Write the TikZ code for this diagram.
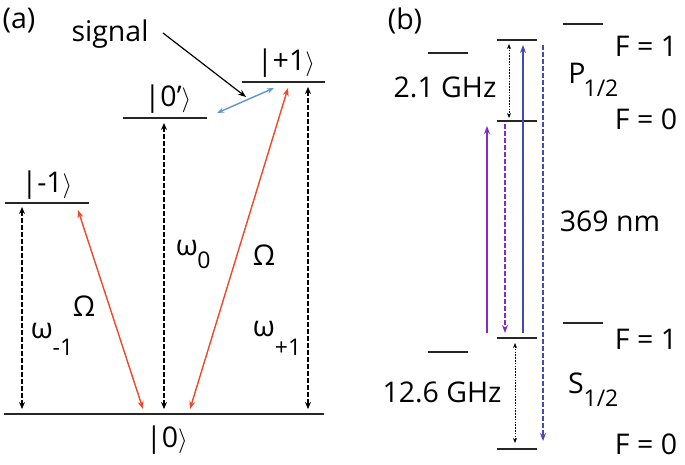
\documentclass[tikz,border=0pt]{standalone}
\usepackage{fontspec}
\setmainfont{Open Sans}
\usetikzlibrary{arrows.meta}
\definecolor{redarr}{RGB}{238,72,40}
\definecolor{bluearr}{RGB}{95,150,210}
\definecolor{purp}{RGB}{135,40,200}
\definecolor{darkblue}{RGB}{70,70,180}
\begin{document}
\begin{tikzpicture}[x=1pt,y=-1pt,
  lvl/.style={line width=1.3pt,black!85},
  txt/.style={inner sep=0pt,font=\fontsize{28.5}{31}\selectfont},
  sub/.style={inner sep=0pt,font=\fontsize{23}{25}\selectfont},
  dasharr/.style={line width=1.4pt,dash pattern=on 4.5pt off 2.5pt,{Stealth[length=7pt,width=6pt]}-{Stealth[length=7pt,width=6pt]}},
  dotarr/.style={line width=1pt,dash pattern=on 1.6pt off 1.2pt,{Stealth[length=5pt,width=4pt]}-{Stealth[length=5pt,width=4pt]}},
  uparr/.style={line width=1.6pt,-{Stealth[length=8pt,width=6pt]}},
  dnarr/.style={line width=1.8pt,dash pattern=on 4.5pt off 2.5pt,-{Stealth[length=8pt,width=6pt]}}]
\useasboundingbox (0,0) rectangle (685,464);
% ---------- panel (a) ----------
\node[txt] (la) at (19,21) {(a)};
\node[txt] (sig) at (110,34) {signal};
\node[txt] (kp) at (286,63) {|+1$\bigr\rangle$};
\node[txt] (kz) at (168,99) {|0’$\bigr\rangle$};
\node[txt] (km) at (47,185) {|-1$\bigr\rangle$};
\node[txt] (k0) at (167,440) {|0$\bigr\rangle$};
\draw[lvl] (242,82) coordinate (pL) -- (325,82) coordinate (pR);
\draw[lvl] (123,118) coordinate (zL) -- (207,118) coordinate (zR);
\draw[lvl] (5,203) coordinate (mL) -- (89,203) coordinate (mR);
\draw[lvl] (4,414) coordinate (gL) -- (324,414) coordinate (gR);
% dashed frequency arrows
\coordinate (am1) at (22,207); \coordinate (am0) at (22,409);
\coordinate (az1) at (164,123); \coordinate (az0) at (164,409);
\coordinate (ap1) at (308,87); \coordinate (ap0) at (308,409);
\draw[dasharr] (am1) -- (am0);
\draw[dasharr] (az1) -- (az0);
\draw[dasharr] (ap1) -- (ap0);
% red Rabi arrows
\coordinate (r1a) at (78,210); \coordinate (r1b) at (143,409);
\coordinate (r2a) at (288,88); \coordinate (r2b) at (190,409);
\draw[line width=1.4pt,redarr,{Stealth[length=8pt,width=6pt]}-{Stealth[length=8pt,width=6pt]}] (r1a) -- (r1b);
\draw[line width=1.4pt,redarr,{Stealth[length=8pt,width=6pt]}-{Stealth[length=8pt,width=6pt]}] (r2a) -- (r2b);
% blue signal transition
\coordinate (b1) at (217,113); \coordinate (b2) at (274,88);
\draw[line width=1.4pt,bluearr,{Stealth[length=7pt,width=5pt]}-{Stealth[length=7pt,width=5pt]}] (b1) -- (b2);
% signal pointer
\coordinate (sp) at (246,97);
\draw[line width=1.2pt,-{Stealth[length=8pt,width=6pt]}] (163,33) -- (sp);
% labels
\node[txt] (w0) at (187,248) {ω};
\node[sub] (w0s) at (204,260) {0};
\node[txt] (Om2) at (264,255) {Ω};
\node[txt] (Om1) at (84,306) {Ω};
\node[txt] (wm) at (42,331) {ω};
\node[sub] (wms) at (63,347) {-1};
\node[txt] (wp) at (264,329) {ω};
\node[sub] (wps) at (288,347) {+1};
% ---------- panel (b) ----------
\node[txt] (lb) at (405,21) {(b)};
\draw[lvl] (428,53) -- (468,53);
\draw[lvl] (497,40) coordinate (P1L) -- (537,40);
\draw[lvl] (497,121) coordinate (P0L) -- (537,121);
\draw[lvl] (563,24) -- (603,24);
\draw[lvl] (563,323) -- (603,323);
\draw[lvl] (497,338) coordinate (S1L) -- (537,338);
\draw[lvl] (428,352) -- (468,352);
\draw[lvl] (497,449) coordinate (S0L) -- (537,449);
\node[txt] (ghz1) at (445,87) {2.1 GHz};
\node[txt] (ghz2) at (442,392) {12.6 GHz};
\node[txt] (F1a) at (646,46) {F = 1};
\node[txt] (F0a) at (646,119) {F = 0};
\node[txt] (F1b) at (646,339) {F = 1};
\node[txt] (F0b) at (646,444) {F = 0};
\node[txt] (nm) at (610,221) {369 nm};
\node[txt] (P) at (577,73) {P};
\node[sub] (Ps) at (601,88) {1/2};
\node[txt] (S) at (576,383) {S};
\node[sub] (Ss) at (601,398) {1/2};
% arrows
\coordinate (d1a) at (509,44); \coordinate (d1b) at (509,118);
\coordinate (d2a) at (515,343); \coordinate (d2b) at (515,443);
\draw[dotarr] (d1a) -- (d1b);
\draw[dotarr] (d2a) -- (d2b);
\coordinate (pu0) at (487,333); \coordinate (pu1) at (487,126);
\coordinate (pd0) at (505,124); \coordinate (pd1) at (505,333);
\coordinate (bu0) at (523,333); \coordinate (bu1) at (523,45);
\coordinate (bd0) at (543,45); \coordinate (bd1) at (543,441);
\draw[uparr,purp] (pu0) -- (pu1);
\draw[dnarr,purp] (pd0) -- (pd1);
\draw[uparr,darkblue] (bu0) -- (bu1);
\draw[dnarr,darkblue] (bd0) -- (bd1);
\end{tikzpicture}
\end{document}
